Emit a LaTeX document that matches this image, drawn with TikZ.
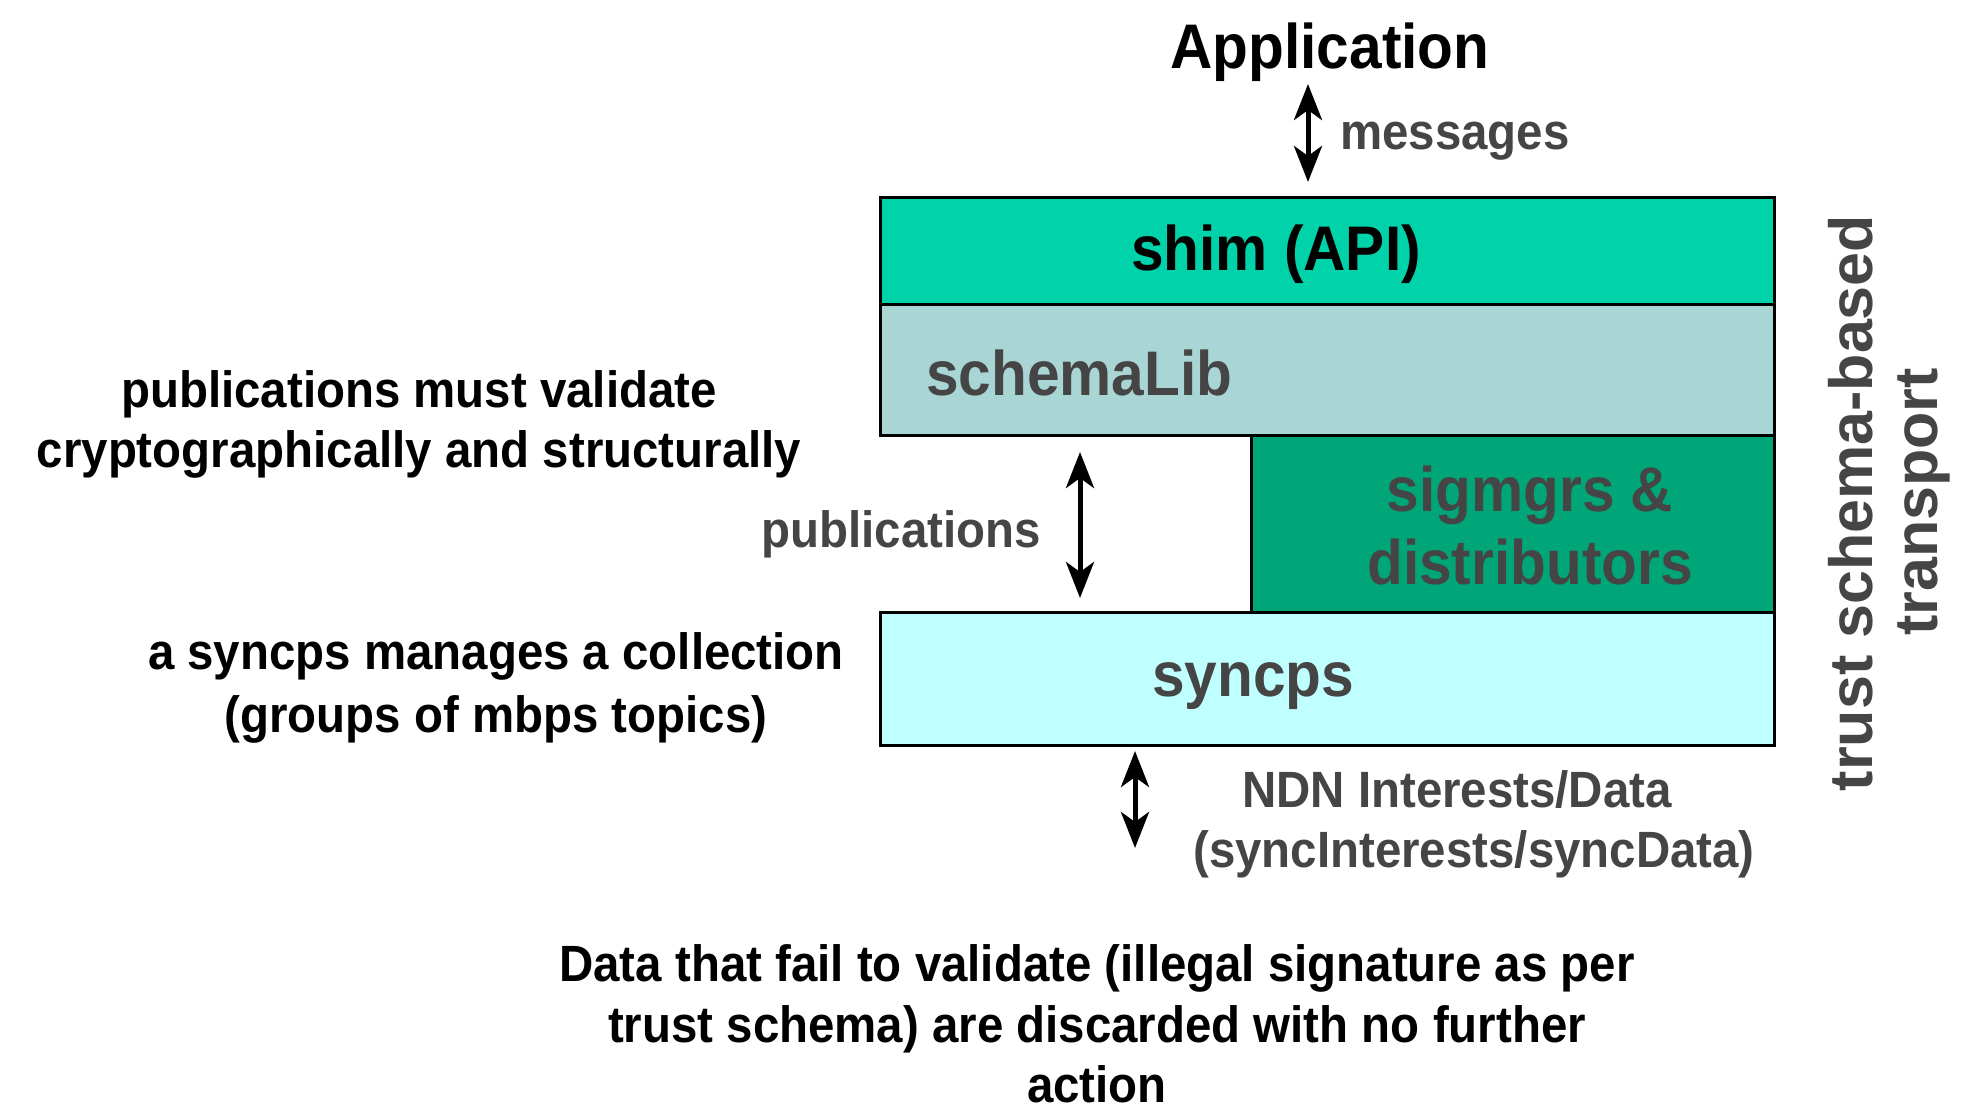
\documentclass[tikz,border=0pt]{standalone}
\usepackage{fontspec}
\usetikzlibrary{arrows.meta}
\newfontfamily\labfont{Liberation Sans}[FakeStretch=0.93]
\newfontfamily\sidefont{Liberation Sans}
\definecolor{shimc}{HTML}{00D2AA}
\definecolor{libc}{HTML}{AAD5D5}
\definecolor{sigc}{HTML}{00A677}
\definecolor{syncc}{HTML}{C0FFFF}
\definecolor{labgray}{HTML}{454545}
\begin{document}
\begin{tikzpicture}[x=1pt,y=-1pt,
  layer/.style={draw=black, line width=3pt, rectangle, inner sep=0pt, outer sep=0pt, anchor=north west},
  big/.style={font=\labfont\bfseries\fontsize{63}{68}\selectfont, inner sep=0pt, anchor=base},
  small/.style={font=\labfont\bfseries\fontsize{51}{61}\selectfont, inner sep=0pt, anchor=base},
  side/.style={font=\sidefont\bfseries\fontsize{61}{66}\selectfont, inner sep=0pt, anchor=base, text=labgray, rotate=90},
  dim/.style={text=labgray},
  biarrow/.style={line width=5pt, {Stealth[length=36pt,width=28pt,inset=10pt]}-{Stealth[length=36pt,width=28pt,inset=10pt]}}
]
\useasboundingbox (0,0) rectangle (1962,1110);

% protocol layers
\node[layer, fill=shimc, minimum width=894pt, minimum height=106pt] (shim) at (880,198) {};
\node[layer, fill=libc, minimum width=894pt, minimum height=131pt] (lib) at (880,304) {};
\node[layer, fill=sigc, minimum width=523pt, minimum height=177pt] (sig) at (1251,435) {};
\node[layer, fill=syncc, minimum width=894pt, minimum height=133pt] (sync) at (880,612) {};

% layer labels
\node[big] (app) at (1330,69) {Application};
\node[big] (shimt) at (1276,270) {shim (API)};
\node[big, dim, anchor=base west] (libt) at (926,395) {schemaLib};
\node[big, dim] (sig1) at (1530,511) {sigmgrs \&};
\node[big, dim] (sig2) at (1530,584) {distributors};
\node[big, dim] (synct) at (1253,696) {syncps};

% flows between layers
\coordinate (m1) at (1308,84);
\coordinate (m2) at (1308,182);
\draw[biarrow] (m1) -- (m2);
\node[small, dim, anchor=base west] (msg) at (1340,150) {messages};

\coordinate (p1) at (1080,452);
\coordinate (p2) at (1080,598);
\draw[biarrow] (p1) -- (p2);
\node[small, dim, anchor=base east] (pub) at (1041,547) {publications};

\coordinate (n1) at (1135,751);
\coordinate (n2) at (1135,848);
\draw[biarrow] (n1) -- (n2);
\node[small, dim] (ndn1) at (1457,807) {NDN Interests/Data};
\node[small, dim] (ndn2) at (1474,867) {(syncInterests/syncData)};

% notes
\node[small] (val1) at (419,407) {publications must validate};
\node[small] (val2) at (419,467) {cryptographically and structurally};
\node[small] (col1) at (496,669) {a syncps manages a collection};
\node[small] (col2) at (496,732) {(groups of mbps topics)};
\node[small] (dis1) at (1097,981) {Data that fail to validate (illegal signature as per};
\node[small] (dis2) at (1097,1042) {trust schema) are discarded with no further};
\node[small] (dis3) at (1097,1102) {action};

% side caption
\node[side] (tr1) at (1872,503) {trust schema-based};
\node[side] (tr2) at (1937,502) {transport};
\end{tikzpicture}
\end{document}
